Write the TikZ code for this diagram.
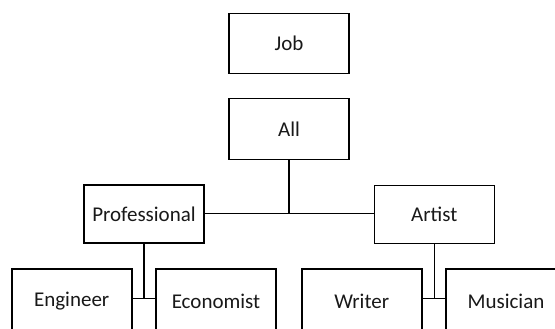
\documentclass[tikz,border=0pt]{standalone}
\usepackage{fontspec}
\setmainfont{Carlito}
\begin{document}
\begin{tikzpicture}[x=1pt,y=-1pt,
  box/.style={draw=black,line width=1.6pt,minimum width=120pt,minimum height=60pt,inner sep=0pt,font=\fontsize{21}{24}\selectfont,text=black!90},
  conn/.style={draw=black,line width=1.6pt}]
\useasboundingbox (0,0) rectangle (555,329);
\clip (0,0) rectangle (555,329);
\fill[white] (0,0) rectangle (555,329);
\node[box] (job) at (289,43.5) {Job};
\node[box,minimum height=61pt] (all) at (289,129) {All};
\node[box,minimum height=58pt] (pro) at (144,214) {Professional};
\node[box,minimum height=58pt] (art) at (434.3,214.5) {Artist};
\node[box,minimum height=65pt] (eng) at (71.7,301.5) {Engineer};
\node[box,minimum height=65pt] (eco) at (216,301.5) {Economist};
\node[box,minimum height=65pt] (wri) at (361.7,301.5) {Writer};
\node[box,minimum height=65pt] (mus) at (506,301.5) {Musician};
\coordinate (h1) at (289,213.5);
\coordinate (pj) at (144,298.3);
\coordinate (aj) at (434.3,298.3);
\draw[conn] (pro.east |- h1) -- (art.west |- h1);
\draw[conn] (all.south) -- (h1);
\draw[conn] (pro.south) -- (pj);
\draw[conn] (eng.east |- pj) -- (eco.west |- pj);
\draw[conn] (art.south) -- (aj);
\draw[conn] (wri.east |- aj) -- (mus.west |- aj);
\end{tikzpicture}
\end{document}
